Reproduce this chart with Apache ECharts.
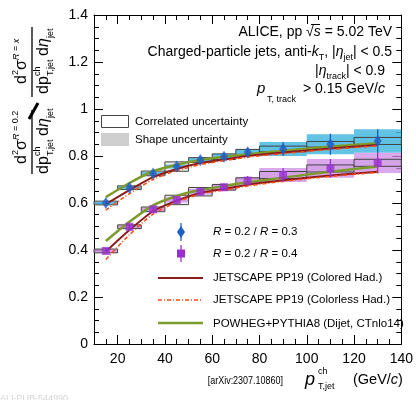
<!DOCTYPE html>
<html>
<head>
<meta charset="utf-8">
<script src="https://cdn.jsdelivr.net/npm/echarts@6/dist/echarts.min.js"></script>
<style>
html,body{margin:0;padding:0;background:#fff;}
#chart{width:416px;height:400px;}
</style>
</head>
<body>
<div id="chart"></div>
<script>
// bins in pT (GeV/c)
var binLo = [10, 20, 30, 40, 50, 60, 70, 80, 100, 120];
var binHi = [20, 30, 40, 50, 60, 70, 80, 100, 120, 140];
var ptCenter = [15, 25, 35, 45, 55, 65, 75, 90, 110, 130];

// R=0.2 / R=0.3
var r03Val   = [0.600, 0.665, 0.726, 0.755, 0.783, 0.797, 0.816, 0.830, 0.850, 0.864];
var r03Stat  = [0.010, 0.010, 0.010, 0.010, 0.012, 0.014, 0.018, 0.030, 0.045, 0.050];
var r03Shape = [0.006, 0.006, 0.007, 0.008, 0.010, 0.012, 0.014, 0.030, 0.043, 0.050];
var r03Corr  = [0.008, 0.008, 0.010, 0.020, 0.010, 0.012, 0.012, 0.012, 0.012, 0.015];

// R=0.2 / R=0.4
var r04Val   = [0.396, 0.499, 0.573, 0.613, 0.648, 0.667, 0.695, 0.719, 0.747, 0.771];
var r04Stat  = [0.012, 0.010, 0.010, 0.012, 0.014, 0.016, 0.020, 0.030, 0.040, 0.045];
var r04Shape = [0.008, 0.008, 0.008, 0.010, 0.012, 0.014, 0.016, 0.030, 0.040, 0.043];
var r04Corr  = [0.008, 0.008, 0.010, 0.020, 0.018, 0.012, 0.012, 0.015, 0.015, 0.015];

// models
var jsColored03   = [0.595, 0.655, 0.710, 0.745, 0.770, 0.785, 0.800, 0.815, 0.832, 0.847];
var jsColorless03 = [0.570, 0.640, 0.700, 0.738, 0.763, 0.780, 0.795, 0.810, 0.828, 0.843];
var powheg03      = [0.625, 0.685, 0.735, 0.763, 0.783, 0.797, 0.808, 0.822, 0.840, 0.854];
var jsColored04   = [0.393, 0.485, 0.565, 0.610, 0.643, 0.660, 0.678, 0.697, 0.717, 0.733];
var jsColorless04 = [0.360, 0.465, 0.553, 0.603, 0.638, 0.655, 0.672, 0.692, 0.713, 0.730];
var powheg04      = [0.438, 0.520, 0.590, 0.630, 0.655, 0.672, 0.688, 0.708, 0.733, 0.755];

var xMajor = [20, 40, 60, 80, 100, 120, 140];

var FONT = 'Liberation Sans, Arial, sans-serif';
var BLUE = '#1f5ec4', PURPLE = '#9a2fd0';
var CYAN_FILL = 'rgba(70,185,225,0.85)', PURP_FILL = 'rgba(205,140,230,0.75)';
var RED = '#8b1c1c', ORANGE = '#ff4a12', GREEN = '#7d9a2c';

function boxData(vals, half) {
  return binLo.map(function (lo, i) { return [lo, binHi[i], vals[i], half[i]]; });
}
function pointData(vals, err) {
  return ptCenter.map(function (x, i) { return [x, vals[i], err[i]]; });
}
function lineData(vals) {
  return ptCenter.map(function (x, i) { return [x, vals[i]]; });
}
function boxRender(style) {
  return function (params, api) {
    var p1 = api.coord([api.value(0), api.value(2) + api.value(3)]);
    var p2 = api.coord([api.value(1), api.value(2) - api.value(3)]);
    return { type: 'rect', shape: { x: p1[0], y: p1[1], width: p2[0] - p1[0], height: p2[1] - p1[1] }, style: style };
  };
}
function errRender(color) {
  return function (params, api) {
    var a = api.coord([api.value(0), api.value(1) - api.value(2)]);
    var b = api.coord([api.value(0), api.value(1) + api.value(2)]);
    return { type: 'line', shape: { x1: a[0], y1: a[1], x2: b[0], y2: b[1] }, style: { stroke: color, lineWidth: 1.3 } };
  };
}
function boxSeries(vals, half, style, z) {
  return { type: 'custom', renderItem: boxRender(style), data: boxData(vals, half), encode: { x: [0, 1], y: 2 }, z: z, silent: true };
}
function modelSeries(vals, color, width, dash) {
  return { type: 'line', data: lineData(vals), symbol: 'none', smooth: 0.25, z: 4,
    lineStyle: { color: color, width: width, type: dash || 'solid' } };
}

var chart = echarts.init(document.getElementById('chart'));

var tickCommon = { inside: true, lineStyle: { color: '#000', width: 1 } };
var option = {
  animation: false,
  grid: { left: 94, right: 10, top: 15, bottom: 56 },
  xAxis: [
    { type: 'value', position: 'bottom', min: 10, max: 140, interval: 10,
      axisLine: { lineStyle: { color: '#000', width: 1 } },
      axisTick: Object.assign({ length: 9, customValues: xMajor }, tickCommon),
      axisLabel: { customValues: xMajor, color: '#000', fontSize: 14, fontFamily: FONT, margin: 8 },
      splitLine: { show: false } },
    { type: 'value', position: 'bottom', min: 10, max: 140, interval: 5,
      axisLine: { show: false }, axisTick: Object.assign({ length: 5 }, tickCommon),
      axisLabel: { show: false }, splitLine: { show: false } },
    { type: 'value', position: 'top', min: 10, max: 140, interval: 10,
      axisLine: { lineStyle: { color: '#000', width: 1 } },
      axisTick: Object.assign({ length: 9, customValues: xMajor }, tickCommon),
      axisLabel: { show: false }, splitLine: { show: false } },
    { type: 'value', position: 'top', min: 10, max: 140, interval: 5,
      axisLine: { show: false }, axisTick: Object.assign({ length: 5 }, tickCommon),
      axisLabel: { show: false }, splitLine: { show: false } }
  ],
  yAxis: [
    { type: 'value', position: 'left', min: 0, max: 1.4, interval: 0.2,
      axisLine: { show: true, lineStyle: { color: '#000', width: 1 } },
      axisTick: Object.assign({ show: true, length: 9 }, tickCommon),
      minorTick: { show: true, splitNumber: 4, length: 5, lineStyle: { color: '#000' } },
      axisLabel: { color: '#000', fontSize: 14, fontFamily: FONT, margin: 6 },
      splitLine: { show: false } },
    { type: 'value', position: 'right', min: 0, max: 1.4, interval: 0.2,
      axisLine: { show: true, lineStyle: { color: '#000', width: 1 } },
      axisTick: Object.assign({ show: true, length: 9 }, tickCommon),
      minorTick: { show: true, splitNumber: 4, length: 5, lineStyle: { color: '#000' } },
      axisLabel: { show: false }, splitLine: { show: false } }
  ],
  series: [
    boxSeries(r03Val, r03Corr, { fill: 'rgba(190,190,190,0.35)', stroke: 'none' }, 1),
    boxSeries(r04Val, r04Corr, { fill: 'rgba(190,190,190,0.35)', stroke: 'none' }, 1),
    boxSeries(r03Val, r03Shape, { fill: CYAN_FILL }, 2),
    boxSeries(r04Val, r04Shape, { fill: PURP_FILL }, 2),
    boxSeries(r03Val, r03Corr, { fill: 'none', stroke: '#444', lineWidth: 1 }, 3),
    boxSeries(r04Val, r04Corr, { fill: 'none', stroke: '#444', lineWidth: 1 }, 3),
    modelSeries(powheg03, GREEN, 2.5),
    modelSeries(powheg04, GREEN, 2.5),
    modelSeries(jsColored03, RED, 2),
    modelSeries(jsColored04, RED, 2),
    modelSeries(jsColorless03, ORANGE, 1.5, [4, 2, 1, 2]),
    modelSeries(jsColorless04, ORANGE, 1.5, [4, 2, 1, 2]),
    { type: 'custom', renderItem: errRender(BLUE), data: pointData(r03Val, r03Stat), encode: { x: 0, y: 1 }, z: 5 },
    { type: 'custom', renderItem: errRender(PURPLE), data: pointData(r04Val, r04Stat), encode: { x: 0, y: 1 }, z: 5 },
    { type: 'scatter', data: lineData(r03Val), symbol: 'diamond', symbolSize: [8, 12], itemStyle: { color: BLUE }, z: 6 },
    { type: 'scatter', data: lineData(r04Val), symbol: 'rect', symbolSize: 8, itemStyle: { color: PURPLE }, z: 6 }
  ],
  graphic: []
};

var g = option.graphic;
function txt(x, y, text, size, extra) {
  var s = Object.assign({ x: x, y: y, text: text, fontSize: size, fontFamily: FONT, fill: '#000',
    textAlign: 'left', textVerticalAlign: 'middle' }, extra || {});
  return { type: 'text', style: s };
}
var richCommon = {
  i: { fontStyle: 'italic', fontSize: 14, fontFamily: FONT },
  sub: { fontSize: 9, fontFamily: FONT, verticalAlign: 'bottom' }
};

// header text
g.push(txt(392, 32, 'ALICE, pp √{i|s} = 5.02 TeV', 14, { textAlign: 'right', rich: richCommon }));
g.push({ type: 'line', shape: { x1: 311, y1: 24.5, x2: 320, y2: 24.5 }, style: { stroke: '#000', lineWidth: 1 } });
g.push(txt(392, 52, 'Charged-particle jets, anti-{i|k}{sub|T}, |{i|η}{sub|jet}| < 0.5', 14,
  { textAlign: 'right', rich: richCommon, lineHeight: 20 }));
g.push(txt(385, 71, '|{i|η}{sub|track}| < 0.9', 14, { textAlign: 'right', rich: richCommon, lineHeight: 20 }));
g.push(txt(385, 89, '> 0.15 GeV/{i|c}', 14, { textAlign: 'right', rich: richCommon }));
g.push(txt(257, 89, 'p', 15, { fontStyle: 'italic' }));
g.push(txt(267, 100, 'T, track', 9));

// box legend
g.push({ type: 'rect', shape: { x: 101.5, y: 115.5, width: 27, height: 12 }, style: { fill: '#fff', stroke: '#444', lineWidth: 1 } });
g.push(txt(135, 122, 'Correlated uncertainty', 11.5));
g.push({ type: 'rect', shape: { x: 101, y: 133, width: 28, height: 13 }, style: { fill: '#cfcfcf' } });
g.push(txt(135, 140, 'Shape uncertainty', 11.5));

// marker legend
var richI = { i: { fontStyle: 'italic', fontSize: 11.5, fontFamily: FONT } };
g.push({ type: 'line', shape: { x1: 181, y1: 223, x2: 181, y2: 241 }, style: { stroke: BLUE, lineWidth: 1.3 } });
g.push({ type: 'polygon', shape: { points: [[181, 226], [185, 232], [181, 238], [177, 232]] }, style: { fill: BLUE } });
g.push(txt(213, 232, '{i|R} = 0.2 / {i|R} = 0.3', 11.5, { rich: richI }));
g.push({ type: 'line', shape: { x1: 181, y1: 245, x2: 181, y2: 262 }, style: { stroke: PURPLE, lineWidth: 1.3 } });
g.push({ type: 'rect', shape: { x: 177, y: 249.5, width: 8, height: 8 }, style: { fill: PURPLE } });
g.push(txt(213, 254, '{i|R} = 0.2 / {i|R} = 0.4', 11.5, { rich: richI }));
g.push({ type: 'line', shape: { x1: 158, y1: 278, x2: 203, y2: 278 }, style: { stroke: RED, lineWidth: 2 } });
g.push(txt(213, 278, 'JETSCAPE PP19 (Colored Had.)', 11.5));
g.push({ type: 'line', shape: { x1: 158, y1: 300, x2: 203, y2: 300 }, style: { stroke: ORANGE, lineWidth: 1.5, lineDash: [4, 2, 1, 2] } });
g.push(txt(213, 300, 'JETSCAPE PP19 (Colorless Had.)', 11.5));
g.push({ type: 'line', shape: { x1: 158, y1: 323, x2: 203, y2: 323 }, style: { stroke: GREEN, lineWidth: 2.5 } });
g.push(txt(213, 324, 'POWHEG+PYTHIA8 (Dijet, CTnlo14)', 11.5));

// x axis title
g.push({ type: 'text', x: 283, y: 381, scaleX: 0.78,
  style: { x: 0, y: 0, text: '[arXiv:2307.10860]', fontSize: 11.5, fontFamily: FONT, fill: '#000', textAlign: 'right', textVerticalAlign: 'middle' } });
g.push(txt(305, 380, 'p', 18, { fontStyle: 'italic' }));
g.push(txt(318, 372, 'ch', 9));
g.push(txt(318, 387, 'T,jet', 9));
g.push(txt(353, 380, '(GeV/{i|c})', 14.5, { rich: { i: { fontStyle: 'italic', fontSize: 14.5, fontFamily: FONT } } }));
g.push(txt(0, 399, 'ALI-PUB-544990', 9, { fill: '#d4d4d4' }));

// y axis title: two rotated fractions
function fraction(cx, cy, supLabel, barHalf) {
  var ch = [];
  ch.push({ type: 'text', style: { x: -22, y: -10, text: 'd', fontSize: 16, fontFamily: FONT, textVerticalAlign: 'middle' } });
  ch.push({ type: 'text', style: { x: -13, y: -16, text: '2', fontSize: 9, fontFamily: FONT, textVerticalAlign: 'middle' } });
  ch.push({ type: 'text', style: { x: -8, y: -10, text: 'σ', fontSize: 16, fontFamily: FONT, textVerticalAlign: 'middle' } });
  ch.push({ type: 'text', style: { x: 2, y: -16, text: supLabel, fontSize: 9, fontFamily: FONT, textVerticalAlign: 'middle',
    rich: { i: { fontStyle: 'italic', fontSize: 9, fontFamily: FONT } } } });
  ch.push({ type: 'line', shape: { x1: -barHalf, y1: 0, x2: barHalf, y2: 0 }, style: { stroke: '#000', lineWidth: 1.3 } });
  ch.push({ type: 'text', style: { x: -32, y: 12, text: 'dp', fontSize: 16, fontFamily: FONT, textVerticalAlign: 'middle' } });
  ch.push({ type: 'text', style: { x: -14, y: 6, text: 'ch', fontSize: 9, fontFamily: FONT, textVerticalAlign: 'middle' } });
  ch.push({ type: 'text', style: { x: -14, y: 19, text: 'T,jet', fontSize: 9, fontFamily: FONT, textVerticalAlign: 'middle' } });
  ch.push({ type: 'text', style: { x: 6, y: 12, text: 'd', fontSize: 16, fontFamily: FONT, textVerticalAlign: 'middle' } });
  ch.push({ type: 'text', style: { x: 15, y: 12, text: 'η', fontSize: 16, fontFamily: FONT, fontStyle: 'italic', textVerticalAlign: 'middle' } });
  ch.push({ type: 'text', style: { x: 24, y: 19, text: 'jet', fontSize: 9, fontFamily: FONT, textVerticalAlign: 'middle' } });
  return { type: 'group', x: cx, y: cy, rotation: Math.PI / 2, children: ch };
}
g.push(fraction(32, 142, '{i|R} = 0.2', 32));
g.push(fraction(32, 62, '{i|R} = {i|x}', 35));
g.push({ type: 'line', shape: { x1: 29, y1: 119, x2: 38, y2: 103 }, style: { stroke: '#000', lineWidth: 3 } });

chart.setOption(option);
</script>
</body>
</html>
